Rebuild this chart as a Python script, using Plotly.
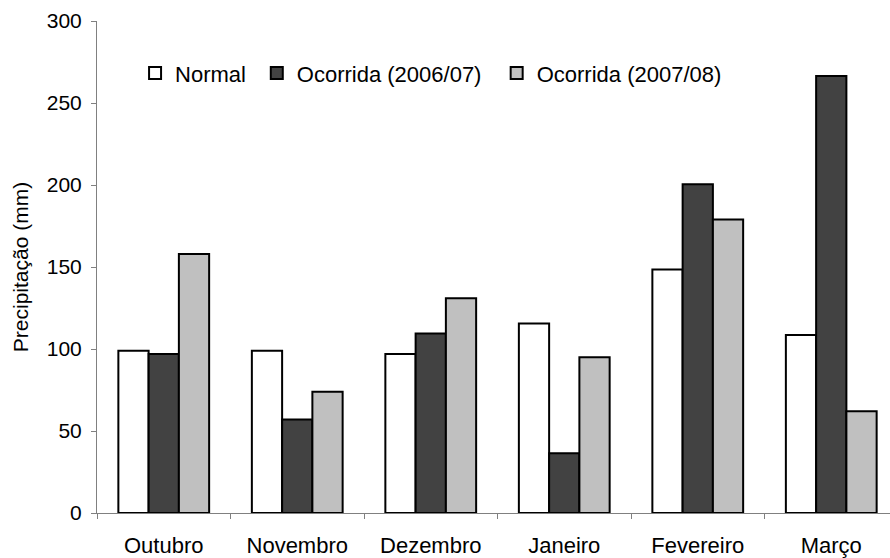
import plotly.graph_objects as go

# Monthly rainfall (mm), October to March
months = ["Outubro", "Novembro", "Dezembro", "Janeiro", "Fevereiro", "Março"]
normal = [99, 99, 97, 115.5, 148.5, 108.5]
ocorrida_2006_07 = [97, 57, 109.5, 36.5, 200.5, 266.5]
ocorrida_2007_08 = [158, 74, 131, 95, 179, 62]

series = [
    ("Normal", normal, "#ffffff", "legend", 0.0480),
    ("Ocorrida (2006/07)", ocorrida_2006_07, "#424242", "legend2", 0.2015),
    ("Ocorrida (2007/08)", ocorrida_2007_08, "#c0c0c0", "legend3", 0.504),
]

font_family = "Liberation Sans, Arial, sans-serif"
font_size = 21
label_size = 22

fig = go.Figure()
legend_layouts = {}
for name, values, color, legend_id, legend_x in series:
    fig.add_trace(go.Bar(
        x=months, y=values, name=name, legend=legend_id,
        marker=dict(color=color, line=dict(color="#000000", width=2)),
    ))
    legend_layouts[legend_id] = dict(
        orientation="h", x=legend_x, y=0.894, xanchor="left", yanchor="middle",
        font=dict(size=label_size, family=font_family, color="#000000"),
        itemwidth=30, bgcolor="rgba(0,0,0,0)", borderwidth=0,
    )

fig.update_layout(
    width=890, height=558,
    margin=dict(l=97, r=0, t=21, b=45),
    paper_bgcolor="white", plot_bgcolor="white",
    barmode="group", bargap=0.32, bargroupgap=0,
    font=dict(family=font_family, size=font_size, color="#000000"),
    showlegend=True,
    **legend_layouts,
)

fig.update_xaxes(
    type="category", range=[-0.5, 5.44],
    showline=True, linecolor="#808080", linewidth=1,
    ticks="outside", ticklen=5, tickcolor="#808080", tickson="boundaries",
    ticklabelstandoff=13, tickfont=dict(size=label_size),
    showgrid=False, zeroline=False,
)
fig.update_yaxes(
    range=[0, 300], dtick=50,
    showline=True, linecolor="#808080", linewidth=1,
    ticks="outside", ticklen=5, tickcolor="#808080",
    showgrid=False, zeroline=False, ticklabelstandoff=5,
    title=dict(text="Precipitação (mm)", font=dict(size=font_size), standoff=12),
)

fig.write_html("out.html")
